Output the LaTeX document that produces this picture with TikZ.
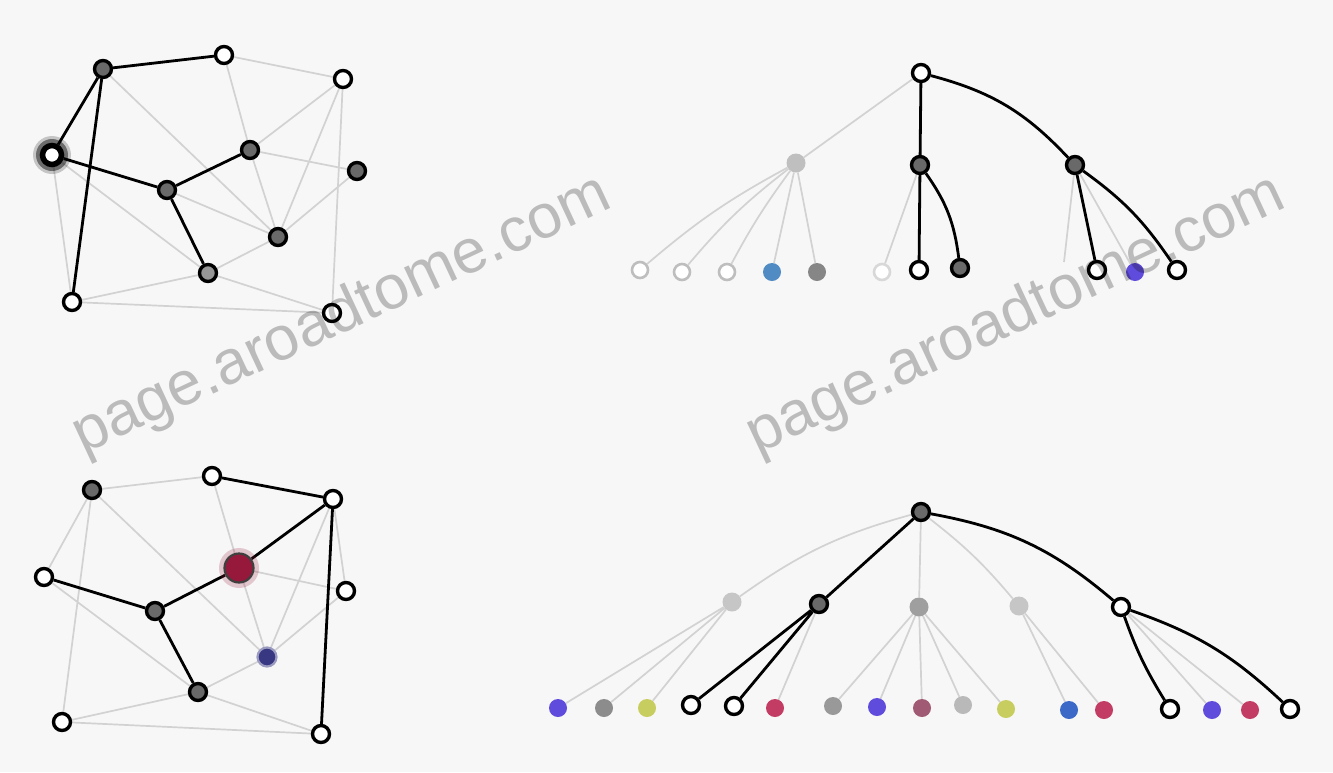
\documentclass[tikz,border=0pt]{standalone}
\usepackage{fontspec}
\newfontfamily\wmfont{Liberation Sans}
\pgfdeclarelayer{bg}
\pgfdeclarelayer{edges}
\pgfsetlayers{bg,edges,main}
\definecolor{paper}{RGB}{247,247,247}
\definecolor{ndark}{RGB}{105,105,105}
\definecolor{fadering}{RGB}{190,190,190}
\definecolor{edgegray}{RGB}{210,210,210}
\definecolor{lblue}{RGB}{80,140,195}
\definecolor{dblue}{RGB}{60,105,200}
\definecolor{lpurple}{RGB}{95,75,220}
\definecolor{lred}{RGB}{195,60,100}
\definecolor{lyellow}{RGB}{200,205,95}
\definecolor{rgray}{RGB}{160,90,115}
\definecolor{wine}{RGB}{150,25,60}
\definecolor{navy}{RGB}{55,55,130}
\tikzset{
  x=1pt,y=-1pt,
  nd/.style={circle,draw=black,line width=3.4pt,fill=ndark,minimum size=17pt,inner sep=0pt},
  nw/.style={nd,fill=white},
  nfade/.style={circle,draw=fadering,line width=2.6pt,fill=white,minimum size=16pt,inner sep=0pt},
  ngray/.style={circle,fill=#1,minimum size=19pt,inner sep=0pt},
  leaf/.style={circle,fill=#1,minimum size=18pt,inner sep=0pt},
  blk/.style={line width=2.8pt,black},
  gry/.style={line width=1.7pt,edgegray},
  wm/.style={text=black,opacity=0.24,rotate=25,font=\wmfont\fontsize{62}{62}\selectfont,inner sep=0pt}
}
\begin{document}
\begin{tikzpicture}
\begin{pgfonlayer}{bg}
\fill[paper] (0,0) rectangle (1333,772);
\end{pgfonlayer}
\useasboundingbox (0,0) rectangle (1333,772);

% ---------- top-left graph ----------
\fill[black,opacity=0.2] (52,155) circle (19);
\fill[black,opacity=0.45] (52,155) circle (16);
\node[nd] (A) at (103,69) {};
\node[nw] (B) at (224,55) {};
\node[nw] (C) at (343,79) {};
\node[nw,line width=5.5pt,minimum size=19pt] (D) at (52,155) {};
\node[nd] (E) at (250,150) {};
\node[nd] (F) at (357,171) {};
\node[nd] (G) at (167,190) {};
\node[nd] (H) at (278,237) {};
\node[nd,fill=ndark!70] (I) at (208,273) {};
\node[nw] (J) at (72,302) {};
\node[nw] (K) at (332,313) {};

\begin{pgfonlayer}{edges}
\draw[gry] (B)--(C) (B)--(E) (A)--(H) (C)--(E) (C)--(H) (C)--(K) (E)--(F)
  (F)--(H) (E)--(H) (D)--(I) (D)--(J) (H)--(I) (J)--(I) (J)--(K) (I)--(K) (G)--(H);
\draw[blk] (A)--(B) (A)--(D) (A)--(J) (D)--(G) (G)--(E) (G)--(I);
\end{pgfonlayer}

% ---------- bottom-left graph ----------
\fill[wine,opacity=0.22] (239,568) circle (20);
\node[nd] (P1) at (92,490) {};
\node[nw] (P2) at (212,476) {};
\node[nw] (P3) at (333,499) {};
\node[circle,fill=wine,draw=black!75,line width=2.2pt,minimum size=29pt,inner sep=0pt] (P4) at (239,568) {};
\node[nw] (P5) at (44,577) {};
\node[nw] (P6) at (346,591) {};
\node[nd] (P7) at (155,611) {};
\node[circle,fill=navy,draw=navy!50,line width=2.2pt,minimum size=19pt,inner sep=0pt] (P8) at (267,657) {};
\node[nd] (P9) at (198,692) {};
\node[nw] (P10) at (62,722) {};
\node[nw] (P11) at (321,734) {};

\begin{pgfonlayer}{edges}
\draw[gry] (P1)--(P2) (P1)--(P8) (P2)--(P4) (P1)--(P5) (P1)--(P10) (P5)--(P9)
  (P4)--(P6) (P3)--(P8) (P6)--(P8) (P4)--(P8) (P9)--(P8) (P10)--(P9)
  (P10)--(P11) (P9)--(P11) (P3)--(P6);
\draw[blk] (P2)--(P3) (P3)--(P4) (P4)--(P7) (P5)--(P7) (P7)--(P9) (P3)--(P11);
\end{pgfonlayer}

% ---------- top-right tree ----------
\node[nw] (R) at (921,73) {};
\node[ngray=gray!50] (L1) at (796,163) {};
\node[nd] (M) at (920,165) {};
\node[nd] (N) at (1075,165) {};
\node[nfade] (t1) at (640,270) {};
\node[nfade] (t2) at (682,272) {};
\node[nfade] (t3) at (727,272) {};
\node[leaf=lblue] (t4) at (772,272) {};
\node[leaf=gray!95] (t5) at (817,272) {};
\node[nfade,draw=fadering!60] (t6) at (882,272) {};
\node[nw] (t7) at (919,270) {};
\node[nd] (t8) at (960,268) {};
\node[nw] (t9) at (1097,270) {};
\node[leaf=lpurple] (t10) at (1135,272) {};
\node[nw] (t11) at (1177,270) {};
\coordinate (t9a) at (1064,262);

\begin{pgfonlayer}{edges}
\draw[gry] (R)--(L1);
\draw[gry] (L1) to[bend right=6] (t1);
\draw[gry] (L1) to[bend right=6] (t2);
\draw[gry] (L1) to[bend right=4] (t3);
\draw[gry] (L1)--(t4) (L1)--(t5);
\draw[gry] (M)--(t6) (N)--(t10) (N)--(t9a);
\draw[blk] (R)--(M) (M)--(t7) (N)--(t9);
\draw[blk] (R) to[bend left=16] (N);
\draw[blk] (M) to[bend left=14] (t8);
\draw[blk] (N) to[bend left=10] (t11);
\end{pgfonlayer}

% ---------- bottom-right tree ----------
\node[nd] (R2) at (921,512) {};
\node[ngray=gray!45] (Q1) at (732,602) {};
\node[nd] (Q2) at (819,604) {};
\node[ngray=gray!75] (Q3) at (919,607) {};
\node[ngray=gray!45] (Q4) at (1019,606) {};
\node[nw] (Q5) at (1121,607) {};
\node[leaf=lpurple] (b1) at (558,708) {};
\node[leaf=gray!90] (b2) at (604,708) {};
\node[leaf=lyellow] (b3) at (647,708) {};
\node[nw] (b4) at (691,705) {};
\node[nw] (b5) at (734,706) {};
\node[leaf=lred] (b6) at (775,708) {};
\node[leaf=gray!80] (b7) at (833,706) {};
\node[leaf=lpurple] (b8) at (877,707) {};
\node[leaf=rgray] (b9) at (922,708) {};
\node[leaf=gray!55] (b10) at (963,705) {};
\node[leaf=lyellow] (b11) at (1006,709) {};
\node[leaf=dblue] (b12) at (1069,710) {};
\node[leaf=lred] (b13) at (1104,710) {};
\node[nw] (b14) at (1170,709) {};
\node[leaf=lpurple] (b15) at (1212,710) {};
\node[leaf=lred] (b16) at (1250,710) {};
\node[nw] (b17) at (1290,709) {};

\begin{pgfonlayer}{edges}
\draw[gry] (R2) to[bend right=10] (Q1);
\draw[gry] (R2)--(Q3);
\draw[gry] (R2) to[bend left=6] (Q4);
\draw[gry] (Q1)--(b1) (Q1)--(b2) (Q1)--(b3) (Q2)--(b6)
  (Q3)--(b7) (Q3)--(b8) (Q3)--(b9) (Q3)--(b10) (Q3)--(b11)
  (Q4)--(b12) (Q4)--(b13) (Q5)--(b15) (Q5)--(b16);
\draw[blk] (R2)--(Q2) (Q2)--(b4) (Q2)--(b5);
\draw[blk] (R2) to[bend left=15] (Q5);
\draw[blk] (Q5) to[bend right=6] (b14);
\draw[blk] (Q5) to[bend left=12] (b17);
\end{pgfonlayer}

% ---------- watermark ----------
\node[wm] (wm1) at (342,316) {page.aroadtome.com};
\node[wm] (wm2) at (1016,316) {page.aroadtome.com};
\end{tikzpicture}
\end{document}
